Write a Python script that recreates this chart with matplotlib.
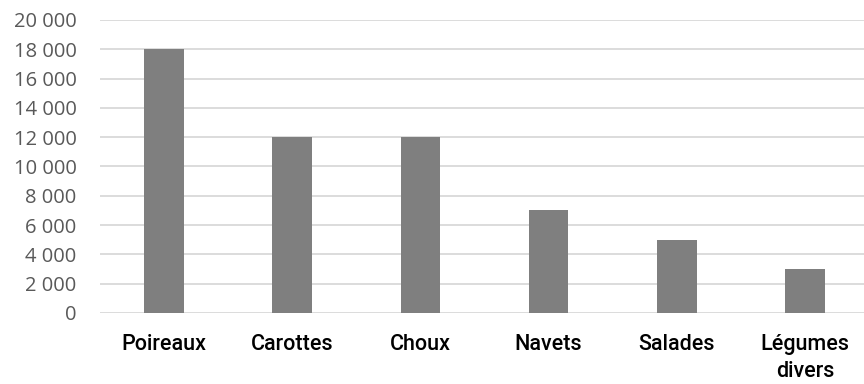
import matplotlib
matplotlib.use('Agg')
import matplotlib.pyplot as plt
from matplotlib.ticker import FuncFormatter

categories = ['Poireaux', 'Carottes', 'Choux', 'Navets', 'Salades', 'Légumes\ndivers']
values = [18000, 12000, 12000, 7000, 5000, 3000]
yticks = list(range(0, 20001, 2000))

fig = plt.figure(figsize=(8.64, 3.84), dpi=100)
ax = fig.add_axes([100/864, 71/384, 769/864, 293/384])

x = list(range(len(categories)))
ax.bar(x, values, width=0.31, color='#7f7f7f', zorder=3)

ax.set_xlim(-0.5, 5.5)
ax.set_ylim(0, 20000)
ax.set_yticks(yticks)
ax.yaxis.set_major_formatter(FuncFormatter(lambda v, p: f'{int(v):,}'.replace(',', ' ')))
ax.grid(axis='y', color='#d9d9d9', linewidth=1.3, zorder=0)
for s in ax.spines.values():
    s.set_visible(False)
ax.tick_params(length=0)
ax.tick_params(axis='y', labelsize=14.5, labelcolor='#595959', pad=17)
ax.set_xticks(x)
ax.set_xticklabels(categories, fontsize=15.5, fontweight='medium', family='Roboto',
                   color='black', linespacing=1.4)
ax.tick_params(axis='x', pad=15)
for lab in ax.get_yticklabels():
    lab.set_family('Open Sans')

fig.savefig('out.png', dpi=100)
